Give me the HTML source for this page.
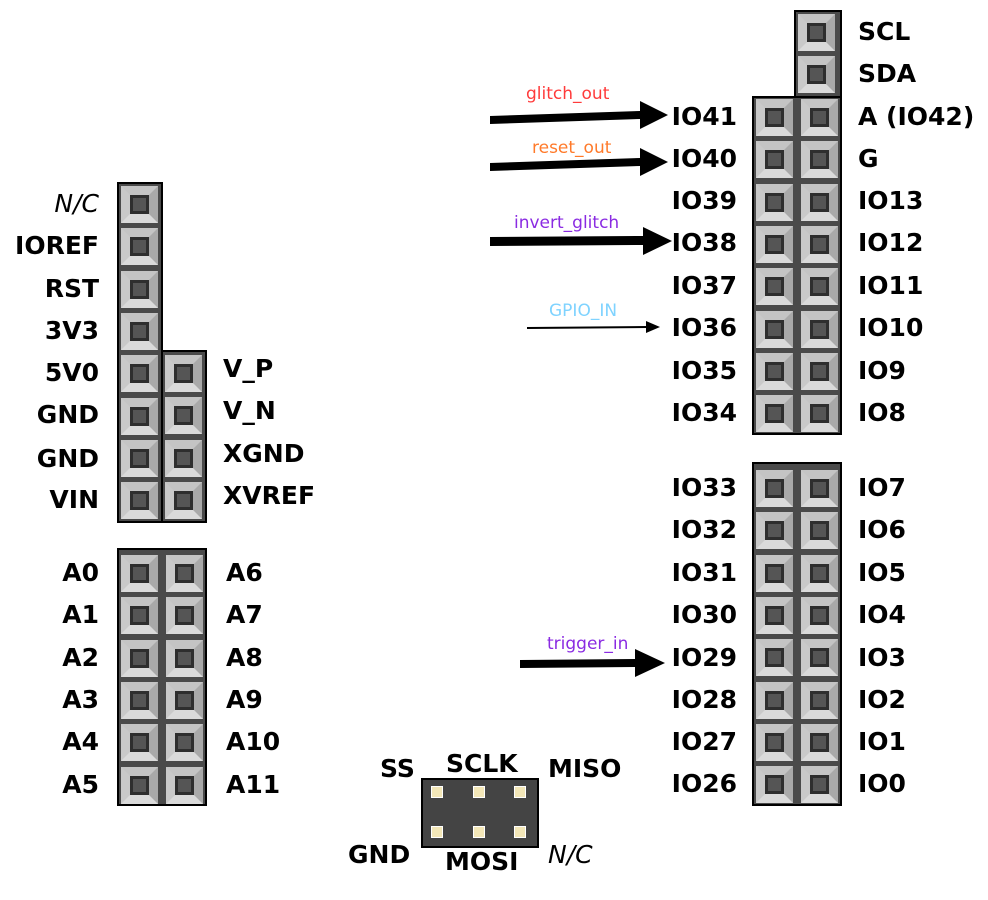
<!DOCTYPE html>
<html><head><meta charset="utf-8"><style>
body{margin:0;width:988px;height:900px;background:#fff;position:relative;overflow:hidden;font-family:"DejaVu Sans","Liberation Sans",sans-serif}
.h{position:absolute;background:#4a4a4a;border:2px solid #000;box-sizing:border-box}
.p{position:absolute;width:37px;height:37px;box-sizing:border-box;border:9px solid;border-color:#c4c4c4 #a9a9a9 #dadada #c9c9c9;}
.p::after{content:"";position:absolute;left:0;top:0;width:19px;height:19px;box-sizing:border-box;background:#555;border:3px solid #2e2e2e}
.l{position:absolute;font-weight:bold;font-size:25px;line-height:28px;color:#000;white-space:nowrap}
.r{text-align:right}
.i{font-style:italic;font-weight:normal}
.a{position:absolute;font-size:17px;line-height:18px;white-space:nowrap}
.s{position:absolute;width:10px;height:10px;background:#f3e7b8;border:1px solid #fff}
</style></head><body>
<div id="hd"></div>

<svg width="988" height="900" style="position:absolute;left:0;top:0">
<polygon points="490,116 640,111 640,101 668,115 640,129 640,119 490,124" fill="#000"/>
<polygon points="490,163 640,158 640,148 668,162 640,176 640,166 490,171" fill="#000"/>
<polygon points="490,237 643,236 643,227 672,241 643,255 643,245 490,246" fill="#000"/>
<line x1="527" y1="328" x2="648" y2="327" stroke="#000" stroke-width="2"/>
<polygon points="646,321 660,327 646,333" fill="#000"/>
<polygon points="520,660 635,659 635,649 665,663 635,677 635,667 520,668" fill="#000"/>
</svg>

<div class="a" style="left:526px;top:85px;color:#ff3b3b">glitch_out</div>
<div class="a" style="left:532px;top:139px;color:#ff7a2a">reset_out</div>
<div class="a" style="left:514px;top:214px;color:#8a2be2">invert_glitch</div>
<div class="a" style="left:549px;top:302px;color:#7fd3ff">GPIO_IN</div>
<div class="a" style="left:547px;top:635px;color:#8a2be2">trigger_in</div>

<div class="l r i" style="right:889px;top:190px">N/C</div>
<div class="l r" style="right:889px;top:232px">IOREF</div>
<div class="l r" style="right:889px;top:275px">RST</div>
<div class="l r" style="right:889px;top:317px">3V3</div>
<div class="l r" style="right:889px;top:359px">5V0</div>
<div class="l r" style="right:889px;top:401px">GND</div>
<div class="l r" style="right:889px;top:445px">GND</div>
<div class="l r" style="right:889px;top:486px">VIN</div>
<div class="l" style="left:223px;top:355px">V_P</div>
<div class="l" style="left:223px;top:397px">V_N</div>
<div class="l" style="left:223px;top:440px">XGND</div>
<div class="l" style="left:223px;top:482px">XVREF</div>

<div class="l r" style="right:889px;top:559px">A0</div>
<div class="l r" style="right:889px;top:601px">A1</div>
<div class="l r" style="right:889px;top:644px">A2</div>
<div class="l r" style="right:889px;top:686px">A3</div>
<div class="l r" style="right:889px;top:728px">A4</div>
<div class="l r" style="right:889px;top:771px">A5</div>
<div class="l" style="left:226px;top:559px">A6</div>
<div class="l" style="left:226px;top:601px">A7</div>
<div class="l" style="left:226px;top:644px">A8</div>
<div class="l" style="left:226px;top:686px">A9</div>
<div class="l" style="left:226px;top:728px">A10</div>
<div class="l" style="left:226px;top:771px">A11</div>

<div class="l" style="left:858px;top:18px">SCL</div>
<div class="l" style="left:858px;top:60px">SDA</div>
<div class="l r" style="right:251px;top:103px">IO41</div>
<div class="l r" style="right:251px;top:145px">IO40</div>
<div class="l r" style="right:251px;top:187px">IO39</div>
<div class="l r" style="right:251px;top:229px">IO38</div>
<div class="l r" style="right:251px;top:272px">IO37</div>
<div class="l r" style="right:251px;top:314px">IO36</div>
<div class="l r" style="right:251px;top:357px">IO35</div>
<div class="l r" style="right:251px;top:399px">IO34</div>
<div class="l" style="left:858px;top:103px">A (IO42)</div>
<div class="l" style="left:858px;top:145px">G</div>
<div class="l" style="left:858px;top:187px">IO13</div>
<div class="l" style="left:858px;top:229px">IO12</div>
<div class="l" style="left:858px;top:272px">IO11</div>
<div class="l" style="left:858px;top:314px">IO10</div>
<div class="l" style="left:858px;top:357px">IO9</div>
<div class="l" style="left:858px;top:399px">IO8</div>

<div class="l r" style="right:251px;top:474px">IO33</div>
<div class="l r" style="right:251px;top:516px">IO32</div>
<div class="l r" style="right:251px;top:559px">IO31</div>
<div class="l r" style="right:251px;top:601px">IO30</div>
<div class="l r" style="right:251px;top:644px">IO29</div>
<div class="l r" style="right:251px;top:686px">IO28</div>
<div class="l r" style="right:251px;top:728px">IO27</div>
<div class="l r" style="right:251px;top:770px">IO26</div>
<div class="l" style="left:858px;top:474px">IO7</div>
<div class="l" style="left:858px;top:516px">IO6</div>
<div class="l" style="left:858px;top:559px">IO5</div>
<div class="l" style="left:858px;top:601px">IO4</div>
<div class="l" style="left:858px;top:644px">IO3</div>
<div class="l" style="left:858px;top:686px">IO2</div>
<div class="l" style="left:858px;top:728px">IO1</div>
<div class="l" style="left:858px;top:770px">IO0</div>

<div class="h" style="left:421px;top:778px;width:118px;height:70px;background:#444"></div>
<div class="s" style="left:431px;top:786px"></div>
<div class="s" style="left:473px;top:786px"></div>
<div class="s" style="left:514px;top:786px"></div>
<div class="s" style="left:431px;top:826px"></div>
<div class="s" style="left:473px;top:826px"></div>
<div class="s" style="left:514px;top:826px"></div>
<div class="l" style="left:380px;top:755px">SS</div>
<div class="l" style="left:446px;top:750px">SCLK</div>
<div class="l" style="left:548px;top:755px">MISO</div>
<div class="l" style="left:348px;top:841px">GND</div>
<div class="l" style="left:445px;top:848px">MOSI</div>
<div class="l i" style="left:548px;top:841px">N/C</div>

<script>
var hd=document.getElementById('hd'),P=42.3;
function H(x,y,w,h,cols,cy0,rows){
 var d=document.createElement('div');d.className='h';d.style.cssText='left:'+x+'px;top:'+y+'px;width:'+w+'px;height:'+h+'px';hd.appendChild(d);
 for(var c=0;c<cols;c++)for(var r=0;r<rows;r++){var p=document.createElement('div');p.className='p';
 p.style.left=(x+4+c*45)+'px';p.style.top=Math.round(cy0+r*P-18)+'px';hd.appendChild(p);}
}
H(117,182,46,341,1,204,8);
H(161,350,46,173,1,373,4);
H(117,548,90,258,2,573,6);
H(794,10,48,88,1,32,2);
H(752,96,90,339,2,117,8);
H(752,462,90,344,2,488,8);
</script>
</body></html>
